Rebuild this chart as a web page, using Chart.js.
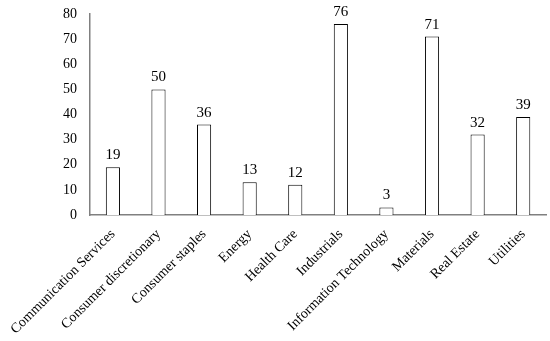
<!DOCTYPE html>
<html>
<head>
<meta charset="utf-8">
<script src="https://cdn.jsdelivr.net/npm/chart.js@4/dist/chart.umd.min.js"></script>
<style>
html,body{margin:0;padding:0;background:#fff;}
#wrap{width:550px;height:341px;position:relative;}
</style>
</head>
<body>
<div id="wrap"><canvas id="c" width="550" height="341" style="width:550px;height:341px"></canvas></div>
<script>
const categories = ["Communication Services","Consumer discretionary","Consumer staples","Energy","Health Care","Industrials","Information Technology","Materials","Real Estate","Utilities"];
const values = [19,50,36,13,12,76,3,71,32,39];
const yTicks = [0,10,20,30,40,50,60,70,80];

const FONT = "'Liberation Serif','Times New Roman',serif";

const labelPlugin = {
  id: 'valueLabels',
  afterDatasetsDraw(chart) {
    const ctx = chart.ctx;
    const meta = chart.getDatasetMeta(0);
    ctx.save();
    ctx.font = "15px " + FONT;
    ctx.fillStyle = "#000";
    ctx.textAlign = "center";
    ctx.textBaseline = "alphabetic";
    meta.data.forEach((bar, i) => {
      ctx.fillText(String(values[i]), bar.x, bar.y - 8);
    });
    ctx.restore();
  }
};

new Chart(document.getElementById('c'), {
  type: 'bar',
  data: {
    labels: categories,
    datasets: [{
      data: values,
      backgroundColor: '#ffffff',
      borderColor: '#000000',
      borderWidth: 1,
      categoryPercentage: 1,
      barPercentage: 0.31
    }]
  },
  options: {
    responsive: false,
    animation: false,
    devicePixelRatio: 1,
    layout: { padding: { left: 2, right: 4, top: 14, bottom: 0 } },
    plugins: { legend: { display: false }, tooltip: { enabled: false } },
    scales: {
      x: {
        afterFit(scale) { scale.height = 126; scale.paddingTop = 0; scale.paddingBottom = 0; },
        grid: { display: false, drawTicks: false },
        border: { display: true, color: '#808080', width: 1.5 },
        ticks: {
          color: '#000',
          font: { family: FONT, size: 14 },
          minRotation: 45, maxRotation: 45,
          autoSkip: false,
          padding: 11
        }
      },
      y: {
        min: 0, max: 80,
        afterBuildTicks(axis) { axis.ticks = yTicks.map(v => ({ value: v })); },
        afterFit(scale) { scale.paddingTop = 0; scale.paddingBottom = 0; },
        grid: { display: false, drawTicks: false },
        border: { display: true, color: '#808080', width: 1.5 },
        ticks: {
          color: '#000',
          font: { family: FONT, size: 14 },
          padding: 13
        }
      }
    }
  },
  plugins: [labelPlugin]
});
</script>
</body>
</html>
